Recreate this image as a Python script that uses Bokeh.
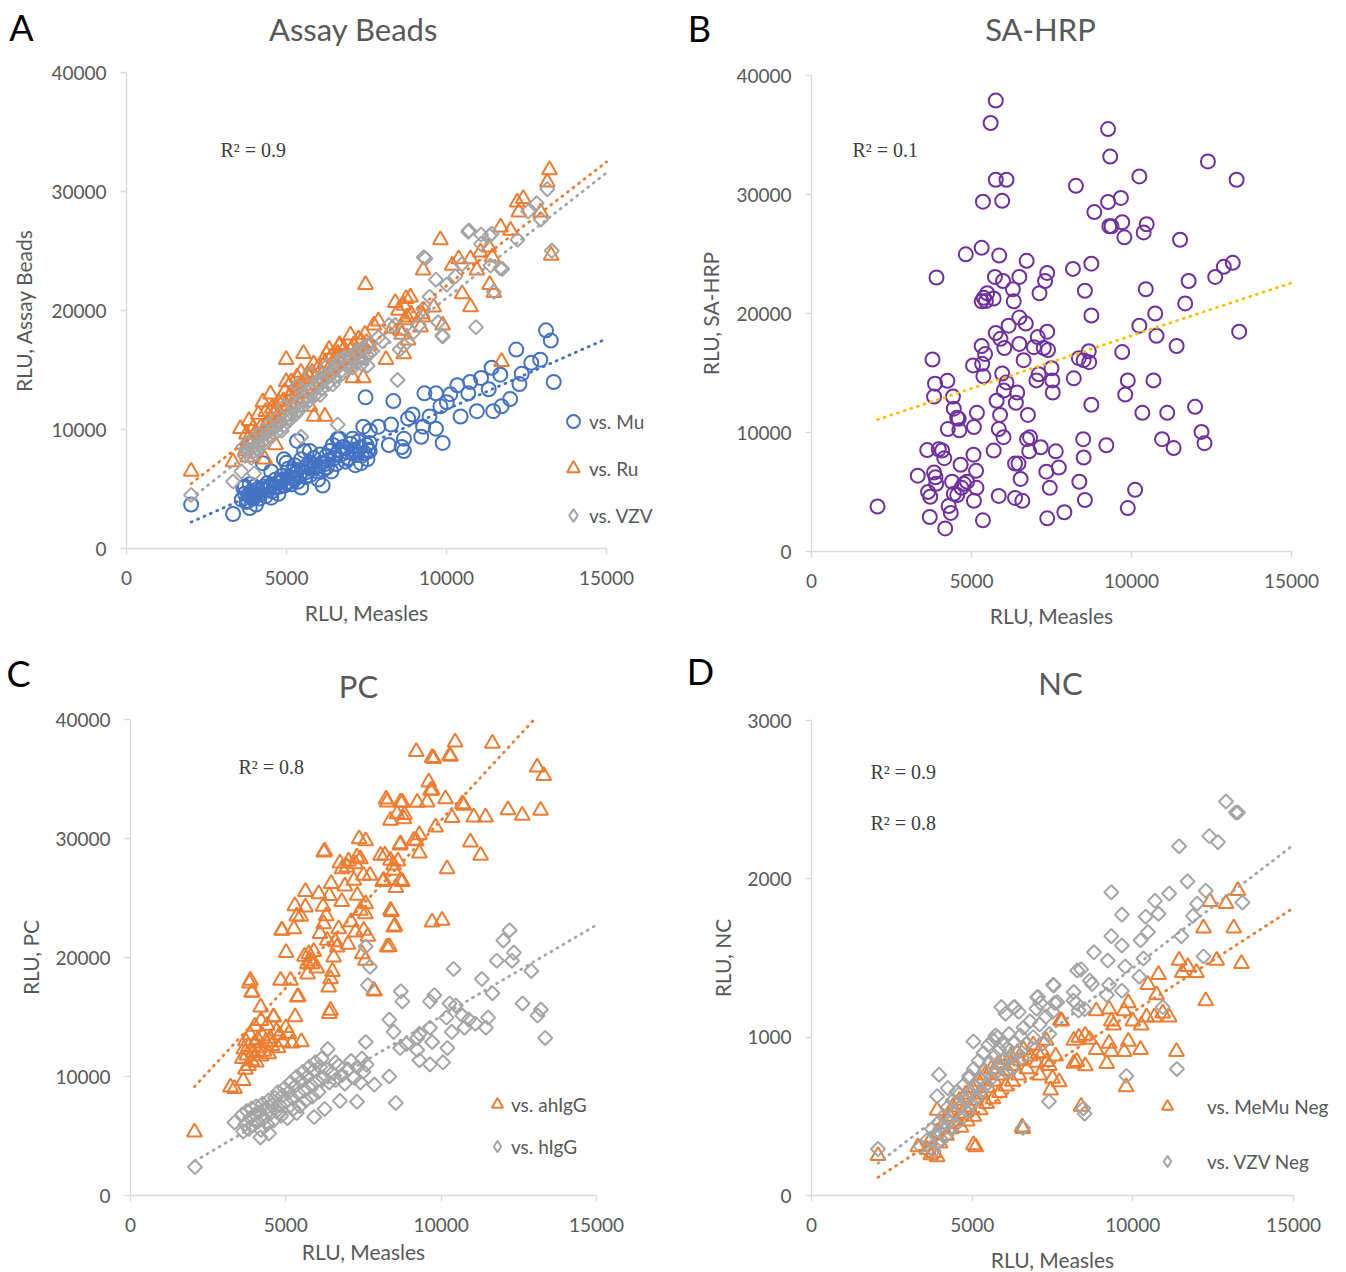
import numpy as np
from bokeh.plotting import figure
from bokeh.models import Range1d, FixedTicker, Label, Legend, LegendItem
from bokeh.layouts import column, row
from bokeh.embed import file_html
from bokeh.resources import INLINE

# ---------------- data (RLU values) ----------------
X_TICKS = [0, 5000, 10000, 15000]

# Panel A  - Assay Beads
A_MU = [(2020,3690),(3330,2900),(3600,4100),(3650,5100),(3700,4600),(3750,3900),(3800,4500),(3850,3400),
        (3850,5400),(3900,4800),(3950,4200),(4000,4300),(4000,5200),(4050,3700),(4100,5000),(4120,4800),
        (4200,4600),(4260,7170),(4300,5200),(4350,4400),(4400,4900),(4450,5100),(4500,5300),(4520,4270),
        (4520,6480),(4600,5100),(4660,5800),(4700,5500),(4750,4600),(4800,5600),(4850,6100),(4900,5800),
        (4920,7510),(4920,5290),(5000,5500),(5000,7200),(5050,6700),(5100,6000),(5150,5400),(5190,6480),
        (5200,5900),(5250,7000),(5300,6300),(5330,9040),(5350,5600),(5400,6100),(5460,7510),(5460,5120),
        (5500,6500),(5550,8200),(5600,6400),(5650,7000),(5700,6800),(5730,8190),(5730,6140),(5800,6700),
        (5850,7600),(5900,7000),(5990,5800),(6000,6900),(6050,7900),(6100,7200),(6130,5290),(6200,7100),
        (6260,6830),(6300,7400),(6350,8200),(6400,6480),(6450,8700),(6500,7600),(6530,7850),(6600,9200),
        (6660,9220),(6700,7900),(6750,8500),(6800,8530),(6850,7300),(6900,8100),(6930,7510),(7000,8800),
        (7070,9220),(7100,8300),(7150,7000),(7200,7850),(7250,9000),(7300,8500),(7330,7170),(7400,10240),
        (7450,8000),(7470,12700),(7500,8700),(7530,7510),(7600,9900),(7600,8870),(7600,8190),(7870,10240),
        (8200,8700),(8270,10410),(8340,12390),(8600,8530),(8670,9220),(8670,8190),(8800,10920),(8940,11260),
        (9210,9390),(9270,10240),(9310,13040),(9470,11090),(9670,10070),(9670,13040),(9810,11950),(9880,8870),
        (10010,12290),(10120,12970),(10340,13720),(10440,11090),(10680,13040),(10740,13990),(10950,11540),
        (11080,14330),(11320,13380),(11410,15190),(11460,11540),(11680,14610),(11720,11950),(11990,12560),
        (12180,16720),(12280,13820),(12350,14680),(12650,15600),(12930,15870),(13110,18330),(13260,17470),
        (13350,13990),
        (3700,5200),(3800,4000),(3900,4400),(4050,4500),(4150,4200),(4250,5000),(4400,5500),(4550,4800),
        (4650,5200),(4800,5200),(4950,5300),(5100,5600),(5250,5800),(5350,6600),(5600,6000),(5750,7200),
        (5950,6500),(6150,6600),(6250,7800),(6550,7100),(6650,8300),(6950,7600),(7050,8000),(7350,7800),
        (7550,8300)]
A_RU = [(2020,6480),(3330,7270),(3560,10070),(3700,8200),(3790,7680),(3800,9200),(3830,10750),(3900,8800),
        (4000,9600),(4100,9000),(4120,11260),(4200,10200),(4260,12290),(4300,9800),(4320,7510),(4400,10600),
        (4500,12970),(4500,10300),(4600,11200),(4660,10580),(4660,8700),(4700,11800),(4800,11000),(4900,12400),
        (4990,15870),(4990,13990),(5000,12000),(5100,12800),(5200,13300),(5300,12600),(5330,14400),(5400,13600),
        (5500,13100),(5530,16380),(5600,14200),(5700,13700),(5730,11950),(5800,14800),(5860,11090),(5900,14300),
        (6000,15200),(6100,14600),(6200,11090),(6200,15600),(6300,15000),(6330,16720),(6400,16100),(6500,15500),
        (6600,16400),(6660,17130),(6700,16000),(6800,16800),(6900,15800),(7000,17920),(7000,16600),(7070,14330),
        (7100,17100),(7200,16500),(7300,15900),(7330,17410),(7400,14330),(7400,16800),(7470,22180),(7500,17300),
        (7600,17060),(7730,18770),(7870,19110),(8110,15870),(8300,18500),(8400,20650),(8500,20000),(8560,18320),
        (8600,18000),(8665,20420),(8665,16360),(8700,19200),(8740,20990),(8770,19440),(8800,17500),(8875,21120),
        (8900,19700),(9190,18600),(9240,19720),(9270,23380),(9270,19450),(9600,20280),(9810,25940),(9880,18770),
        (10180,23780),(10380,24340),(10490,21400),(10750,24340),(10750,20310),(10950,23380),(11060,24900),
        (11320,25320),(11350,22180),(11430,24480),(11480,21500),(11690,27000),(11720,15700),(12000,26720),
        (12210,29100),(12260,28260),(12400,29390),(12940,28260),(13150,30780),(13220,31810),(13270,24620),
        (3750,9600),(3950,10100),(4150,9500),(4350,11500),(4550,11800),(4750,12300),(4950,13200),(5150,14000),
        (5350,13000),(5450,14800),(5650,14600),(5850,15500),(6050,14000),(6250,16300),(6450,15200),(6650,17000),
        (6850,16100),(7050,15500),(7250,17600),(7450,18000)]
A_VZV = [(2020,4500),(3330,5630),(3590,6480),(3650,8530),(3700,7800),(3790,8190),(3800,8900),(3850,8870),
         (3900,7600),(3990,6310),(3990,8530),(4000,9000),(4100,8300),(4120,9220),(4200,9500),(4260,9900),
         (4300,8800),(4400,9700),(4460,10410),(4500,9300),(4600,10100),(4660,10920),(4700,9800),(4800,10600),
         (4900,10300),(4920,11950),(5000,11200),(5100,10800),(5190,12290),(5200,11700),(5300,11300),
         (5330,13650),(5400,12300),(5460,13310),(5460,9390),(5500,11900),(5600,12800),(5700,12400),
         (5730,14680),(5800,13400),(5900,12900),(6000,13900),(6060,14330),(6100,13400),(6200,14400),
         (6260,15360),(6300,13900),(6400,15000),(6500,14400),(6530,15020),(6600,15400),(6600,10410),
         (6700,14900),(6800,15900),(6800,16040),(6900,15300),(7000,16200),(7070,15190),(7100,15700),
         (7200,16600),(7300,16100),(7330,16040),(7400,16900),(7500,16300),(7530,15360),(7600,17200),
         (7600,16380),(7870,17750),(8000,17410),(8200,18770),(8400,18770),(8470,14160),(8540,16720),
         (8670,17060),(8940,18090),(9140,18770),(9270,20140),(9290,24480),(9340,24370),(9470,21160),
         (9670,22590),(9740,19010),(9870,17900),(9880,17810),(10010,22180),(10280,22870),(10480,23890),
         (10680,26620),(10700,26720),(10920,18600),(11080,26380),(11080,25600),(11350,26280),(11375,23780),
         (11410,26450),(11480,21570),(11680,23550),(11740,23500),(12220,25940),(12550,28330),(12820,29010),
         (12950,27650),(13150,30200),(13290,25020),
         (3750,8400),(3950,8100),(4050,9400),(4150,8700),(4350,9200),(4550,10200),(4750,10400),(4850,9900),
         (5050,10900),(5150,11400),(5250,12000),(5350,11600),(5550,12400),(5650,13200),(5750,12900),
         (5950,13500),(6050,12900),(6150,14000),(6350,14500),(6450,13800),(6650,15800),(6750,14700),
         (6950,15700),(7150,16300),(7350,15500),(7450,16000),(7550,17000)]

# Panel B  - SA-HRP
B_HRP = [(2063,3780),(3906,23025),(3781,16134),(3860,14100),(3830,13015),(3616,8520),(3977,8590),(4150,7840),
         (3321,6370),(3830,6640),(3897,5690),(3643,5010),(3710,4600),(3696,2900),(4178,1940),(4245,14340),
         (4420,13015),(4446,12000),(4553,11240),(4259,10290),(4620,10190),(4393,5860),(4660,7290),(4286,3820),
         (4353,3240),(4553,4740),(4687,5350),(4861,5860),(4821,24975),(5049,15640),(5076,10460),(5170,11650),
         (5062,8140),(5143,6780),(5076,4260),(5156,5350),(5317,25520),(5357,29400),(5317,17270),(5357,2620),
         (5317,21020),(5424,16590),(5370,14720),(5490,21700),(5598,36010),(5759,37890),(5759,31240),
         (6093,31240),(5959,29470),(5692,8480),(5759,18360),(5732,23070),(5692,21260),(5786,12670),
         (5852,10290),(5893,11480),(5852,4670),(5866,24870),(5959,14960),(5986,22730),(6000,9610),(6027,17100),
         (6093,14210),(6160,18980),(6294,22040),(6320,21020),(6361,7390),(6361,4500),(6387,12500),(6428,13360),
         (6468,7390),(6495,23070),(6495,19660),(6495,17440),(6535,6100),(6589,4260),(6629,16080),(6696,19150),
         (6723,24430),(6763,11480),(6736,9440),(6830,9610),(6803,8420),(7071,18020),(7125,21700),(7165,8760),
         (7031,14380),(7098,14890),(7259,17100),(7299,22730),(7366,23410),(7366,18470),(7339,6710),(7366,2790),
         (7446,5350),(7393,16930),(7500,15400),(7527,14380),(7540,13360),(7634,8420),(7728,7050),(7902,3300),
         (8170,23750),(8263,30730),(8196,14550),(8370,5860),(8504,16080),(8544,21910),(8490,9440),(8504,7900),
         (8544,4330),(8678,15910),(8745,19830),(8745,24190),(8745,12330),(8839,28520),(9214,8930),(9268,29370),
         (9268,35500),(9335,33190),(9308,27330),(9375,27330),(9669,29710),(9710,27670),(9710,16760),(9777,26400),
         (9804,13190),(9884,14380),(9884,3650),(10112,5180),(10246,31520),(10246,18980),(10380,26810),
         (10340,11650),(10474,27500),(10446,22040),(10741,20000),(10781,18130),(10687,14380),(10955,9440),
         (11116,11650),(11317,8690),(11410,17270),(11518,26200),(11678,20850),(11785,22730),(11986,12160),
         (12187,10050),(12281,9100),(12388,32780),(12616,23070),(12884,23920),(13165,24260),(13285,31240),
         (13365,18470),(4600,11150),(3875,6240),(4083,8490),(4448,4850),(4760,5690),(5385,21320),(5450,21050),
         (6948,17170),(5906,17870),(5333,15770),(6010,13530),(8354,16245),(8666,16830)]

# Panel C  - PC
C_AHIGG = [(2060,5320),(3350,8980),(3630,9660),(3830,17850),(3900,17060),(3860,18070),(3920,17080),(3219,9100),
           (3600,11500),(3650,12300),(3700,10600),(3700,13000),(3750,11800),(3800,12500),(3800,10900),
           (3850,13500),(3900,11300),(3950,12000),(4000,12800),(4000,14200),(4050,11200),(4100,13100),
           (4150,12400),(4190,15820),(4200,11700),(4200,14700),(4250,13400),(4300,12100),(4350,12900),
           (4400,14300),(4450,11900),(4500,13200),(4550,12600),(4600,15000),(4610,14980),(4700,13800),
           (4750,12400),(4800,13500),(4830,18070),(4870,22290),(4880,22270),(4900,12900),(5000,14100),
           (5010,20410),(5100,13600),(5150,18070),(5200,12800),(5260,22410),(5290,24330),(5300,15000),
           (5350,23480),(5370,16660),(5400,16700),(5480,23460),(5500,12900),(5600,20100),(5630,25530),
           (5630,24230),(5690,19470),(5700,18600),(5740,20310),(5800,19700),(5850,19470),(5900,20500),
           (6000,19100),(6060,25350),(6100,22000),(6200,24300),(6220,22830),(6220,28850),(6250,28940),
           (6300,23500),(6330,21430),(6380,17500),(6400,15290),(6400,25200),(6440,18210),(6440,15550),
           (6460,26210),(6500,18800),(6540,20030),(6600,21300),(6650,20870),(6700,22400),(6740,27920),
           (6800,24700),(6810,27450),(6900,26000),(6970,27590),(7000,21100),(7020,28090),(7100,23000),
           (7190,26470),(7240,27870),(7240,22120),(7290,28430),(7300,25210),(7360,29970),(7400,23950),
           (7400,28290),(7460,20310),(7500,26890),(7510,22270),(7560,23670),(7560,19750),(7570,29800),
           (7570,24510),(7640,21770),(7710,26890),(7830,17230),(7850,17170),(8050,28570),(8120,26380),
           (8150,26470),(8190,28600),(8230,33310),(8260,33050),(8260,20870),(8330,20920),(8370,31510),
           (8370,28150),(8370,23950),(8400,23820),(8470,27750),(8480,27310),(8480,22550),(8510,22630),
           (8540,25870),(8580,32070),(8610,28090),(8680,29450),(8690,33050),(8690,26470),(8690,29550),
           (8750,33040),(8750,26380),(8800,31650),(8820,32010),(9120,29830),(9200,37300),(9230,33040),
           (9200,29800),(9300,30310),(9300,28770),(9550,33050),(9600,34730),(9660,34030),(9710,34060),
           (9710,36790),(9710,22970),(9760,36700),(9820,30950),(10030,23110),(10140,33330),(10190,27450),
           (10270,36960),(10300,36890),(10350,31740),(10450,38090),(10680,32910),(10730,32770),(10940,29690),
           (11050,31790),(11270,28570),(11430,31790),(11650,37990),(12150,32410),(12610,31930),(13090,35990),
           (13200,32350),(13300,35290)]
C_HIGG = [(2075,2390),(3350,6140),(3600,6800),(3630,5390),(3700,6000),(3750,7100),(3800,5600),(3850,6500),
          (3900,7300),(3950,5900),(4000,6800),(4050,7500),(4100,6200),(4150,7000),(4180,4880),(4200,5500),
          (4250,7700),(4300,6500),(4350,7300),(4400,6000),(4450,8000),(4460,5220),(4500,6900),(4550,7600),
          (4600,6300),(4650,8200),(4700,7100),(4750,8700),(4800,6930),(4800,7600),(4850,6700),(4900,8400),
          (4950,9000),(5000,7900),(5050,6500),(5100,8700),(5150,9500),(5200,8200),(5250,7300),(5300,9200),
          (5350,6930),(5350,10000),(5400,8600),(5450,7500),(5500,9600),(5550,10400),(5600,8900),(5650,8000),
          (5700,10000),(5750,10800),(5800,9300),(5850,8300),(5900,10500),(5910,6590),(5950,11200),(6000,9600),
          (6050,8700),(6100,10800),(6150,11500),(6200,9900),(6250,7270),(6300,10600),(6350,12300),(6400,9500),
          (6500,10300),(6600,11190),(6600,9700),(6700,10900),(6740,7950),(6800,10100),(6900,9400),(7000,10600),
          (7100,11300),(7200,9900),(7290,7880),(7300,10800),(7400,9500),(7450,11500),(7500,10400),(7570,12900),
          (7570,20920),(7600,11000),(7640,17680),(7710,19220),(7850,9320),(8330,10000),(8540,7780),(8330,14780),
          (8470,13750),(8700,17170),(8750,16310),(8680,12390),(8880,12730),(9300,13580),(9230,13240),
          (9230,12220),(9300,11370),(9640,11020),(9710,12900),(9640,16310),(9780,16830),(9640,14100),
          (10060,11190),(10200,12390),(10170,14950),(10340,13750),(10270,16140),(10400,19040),(10470,15970),
          (10680,15120),(10750,14100),(10890,14780),(11100,14440),(11310,18190),(11440,14100),(11510,14950),
          (11650,17000),(11790,19730),(12000,21430),(12200,22290),(12280,19730),(12340,20410),(12620,16140),
          (12900,18870),(13100,15120),(13210,15630),(13350,13240)]

# Panel D  - NC
D_MEMU = [(2070,251),(3310,307),(3600,290),(3700,350),(3710,256),(3800,270),(3900,400),(3910,243),(3910,538),
          (4000,330),(4100,450),(4200,380),(4300,500),(4350,420),(4400,560),(4500,470),(4600,600),(4650,430),
          (4700,520),(4800,640),(4850,470),(4900,560),(5000,680),(5040,320),(5050,500),(5110,307),(5100,600),
          (5200,720),(5250,540),(5300,640),(5400,760),(5450,580),(5500,680),(5600,800),(5650,610),(5700,720),
          (5800,830),(5850,650),(5900,760),(6000,860),(6050,690),(6100,790),(6200,880),(6250,720),(6300,820),
          (6400,900),(6450,760),(6500,850),(6556,431),(6580,422),(6600,920),(6700,800),(6800,880),(6900,950),
          (7000,840),(7050,896),(7100,760),(7200,900),(7300,980),(7320,845),(7400,820),(7440,666),(7500,740),
          (7600,880),(7710,717),(7750,1105),(7790,1101),(8165,979),(8165,834),(8260,845),(8320,998),(8390,563),
          (8520,1011),(8520,819),(8660,985),(8860,1165),(8860,921),(9190,832),(9260,1177),(9260,960),(9330,1101),
          (9330,909),(9400,1075),(9730,1165),(9730,909),(9790,686),(9860,1216),(9860,973),(10000,1101),
          (10240,921),(10260,1075),(10430,1126),(10470,1331),(10670,1126),(10740,1267),(10800,1395),
          (10930,1152),(11130,1126),(11360,909),(11440,1484),(11540,1408),(11710,1446),(11980,1408),
          (12200,1689),(12270,1229),(12400,1856),(12610,1484),(12900,1843),(13140,1689),(13270,1925),
          (13380,1464)]
D_VZV = [(2070,294),(3400,310),(3600,350),(3700,300),(3750,420),(3800,280),(3850,380),(3900,330),(3910,627),
         (3950,460),(3970,763),(4000,400),(4050,350),(4100,500),(4150,430),(4200,380),(4240,678),(4250,560),
         (4300,470),(4350,420),(4400,600),(4450,520),(4500,450),(4510,653),(4600,640),(4650,560),(4700,490),
         (4750,700),(4800,600),(4850,530),(4900,740),(4910,755),(4950,650),(5000,580),(5040,973),(5050,800),
         (5100,690),(5150,620),(5200,850),(5250,740),(5300,660),(5350,900),(5400,790),(5450,700),(5500,950),
         (5550,840),(5600,740),(5650,980),(5700,880),(5726,1010),(5750,780),(5800,1000),(5850,920),
         (5900,820),(5910,1190),(5950,960),(6000,860),(6037,1148),(6050,780),(6100,930),(6150,1020),
         (6200,880),(6250,800),(6296,1189),(6300,970),(6320,1190),(6400,900),(6450,1160),(6500,1010),
         (6550,870),(6580,427),(6600,1060),(6700,960),(6800,1100),(6900,1000),(7000,1180),(7024,1252),
         (7050,1254),(7100,1080),(7120,1216),(7200,960),(7300,1130),(7390,594),(7400,1020),(7500,1160),
         (7520,1331),(7541,1326),(7570,1216),(7647,1221),(8150,1231),(8160,1285),(8240,1216),(8270,1421),
         (8310,1168),(8390,1428),(8460,550),(8500,1177),(8500,517),(8660,1357),(8730,1336),(8790,1536),
         (9190,1267),(9220,1484),(9260,1331),(9330,1915),(9330,1638),(9660,1774),(9660,1579),(9660,1293),
         (9760,1446),(9800,755),(10200,1382),(10240,1612),(10330,1497),(10400,1761),(10470,1664),
         (10690,1861),(10800,1779),(10930,1190),(11130,1907),(11370,799),(11440,2206),(11510,1638),
         (11700,1984),(11870,1766),(12000,1843),(12200,1510),(12270,1925),(12380,2270),(12650,2232),
         (12900,2488),(13210,2419),(13270,2419),(13410,1851)]

# Linear trend lines as shown in the figure: (slope, intercept)
FIT_A_MU, FIT_A_RU, FIT_A_VZV = (1.187, -178), (2.082, 1254), (2.108, -45)
FIT_B_HRP = (0.888, 9256)
FIT_C_AHIGG, FIT_C_HIGG = (2.821, 3340), (1.535, -289)
FIT_D_MEMU, FIT_D_VZV = (0.1316, -158), (0.1555, -118)

# ---------------- styling ----------------
BLUE, ORANGE, GRAY, PURPLE, GOLD = "#4472C4", "#ED7D31", "#A5A5A5", "#7030A0", "#FFC000"
TXT = "#595959"
FONT = "Lato"
W, H = 673, 636
DIAM = np.pi / 4
S_CIRC, S_TRI, S_DIAM, LW = 14, 15, 10, 2.0


def xy(pts):
    return [p[0] for p in pts], [p[1] for p in pts]


def to_data(frame, ymax, fx, fy):
    l, r, t, b = frame
    return (fx - l) / (r - l) * 15000, (b - fy) / (b - t) * ymax


def make_panel(frame, ymax, ystep, ylabel, xstand, ystand):
    l, r, t, b = frame
    sx = 15000 / (r - l)
    sy = ymax / (b - t)
    p = figure(width=W, height=H,
               x_range=Range1d(-l * sx, (W - l) * sx),
               y_range=Range1d(-(H - b) * sy, b * sy),
               min_border_left=0, min_border_right=0, min_border_top=0, min_border_bottom=0,
               output_backend="svg", toolbar_location=None,
               x_axis_label="RLU, Measles", y_axis_label=ylabel)
    p.title.visible = False
    p.outline_line_color = None
    p.xgrid.visible = False
    p.ygrid.visible = False
    p.background_fill_color = "white"
    p.border_fill_color = "white"
    xa, ya = p.xaxis[0], p.yaxis[0]
    xa.fixed_location = 0
    ya.fixed_location = 0
    xa.bounds = (0, 15000)
    ya.bounds = (0, ymax)
    xa.ticker = FixedTicker(ticks=X_TICKS)
    ya.ticker = FixedTicker(ticks=list(range(0, ymax + 1, ystep)))
    for ax in (xa, ya):
        ax.axis_line_color = "#D9D9D9"
        ax.axis_line_width = 1.3
        ax.major_tick_line_color = "#D9D9D9"
        ax.major_tick_line_width = 1.3
        ax.minor_tick_line_color = None
        ax.major_tick_out = 6
        ax.major_tick_in = 0
        ax.major_label_text_font = FONT
        ax.major_label_text_font_size = "19px"
        ax.major_label_text_color = TXT
        ax.axis_label_text_font = FONT
        ax.axis_label_text_font_size = "21px"
        ax.axis_label_text_color = TXT
        ax.axis_label_text_font_style = "normal"
    xa.major_label_standoff = 16
    ya.major_label_standoff = 14
    xa.axis_label_standoff = xstand
    ya.axis_label_standoff = ystand
    return p


def add_series(p, pts, marker, color, size, angle=0.0):
    xs, ys = xy(pts)
    return p.scatter(xs, ys, marker=marker, size=size, angle=angle, fill_color=None,
                     line_color=color, line_width=LW)


def add_trend(p, pts, fit, color, ymax):
    k, c = fit
    xs, _ = xy(pts)
    x0 = min(xs)
    x1 = min(15000, (ymax - c) / k)
    p.line([x0, x1], [k * x0 + c, k * x1 + c], line_color=color, line_width=2.8,
           line_dash="1 6", line_cap="round")


def add_text(p, frame, ymax, fx, fy, text, size, color, font=FONT, align="left"):
    x, y = to_data(frame, ymax, fx, fy)
    p.add_layout(Label(x=x, y=y, text=text, text_font=font, text_font_size=size, text_color=color,
                       text_align=align, text_baseline="middle"))


def add_legend(p, items, loc, glyph, spacing, standoff):
    lg = Legend(items=items, location=loc, glyph_width=glyph, glyph_height=glyph, label_height=glyph,
                spacing=spacing, label_standoff=standoff, padding=0, margin=0,
                background_fill_alpha=0, border_line_alpha=0,
                label_text_font=FONT, label_text_font_size="19px", label_text_color=TXT)
    p.add_layout(lg)


def diamond_key(p):
    # legend key for the diamond series (legend keys are drawn unrotated); its one point is NaN, so not drawn
    return p.scatter(np.array([np.nan]), np.array([np.nan]), marker="diamond", size=12, fill_color=None,
                     line_color=GRAY, line_width=LW)


R2_FONT = "Liberation Serif"
R2_COL = "#404040"

# ---- Panel A ----
FA = (126, 606, 72, 548)
pA = make_panel(FA, 40000, 10000, "RLU, Assay Beads", 12, 12)
rA1 = add_series(pA, A_MU, "circle", BLUE, S_CIRC)
rA2 = add_series(pA, A_RU, "triangle", ORANGE, S_TRI)
rA3 = add_series(pA, A_VZV, "square", GRAY, S_DIAM, DIAM)
kA3 = diamond_key(pA)
add_trend(pA, A_MU, FIT_A_MU, BLUE, 40000)
add_trend(pA, A_RU, FIT_A_RU, ORANGE, 40000)
add_trend(pA, A_VZV, FIT_A_VZV, GRAY, 40000)
add_legend(pA, [LegendItem(label="vs. Mu", renderers=[rA1]), LegendItem(label="vs. Ru", renderers=[rA2]),
                LegendItem(label="vs. VZV", renderers=[kA3])], (557, 105), 32, 15, 0)
add_text(pA, FA, 40000, 220, 149, "R² = 0.9", "20px", R2_COL, R2_FONT)
add_text(pA, FA, 40000, 353, 28, "Assay Beads", "31px", TXT, align="center")
add_text(pA, FA, 40000, 21, 26, "A", "36px", "#000000", align="center")

# ---- Panel B ----
FB = (138, 618, 75, 551)
pB = make_panel(FB, 40000, 10000, "RLU, SA-HRP", 12, 10)
add_series(pB, B_HRP, "circle", PURPLE, S_CIRC)
add_trend(pB, B_HRP, FIT_B_HRP, GOLD, 40000)
add_text(pB, FB, 40000, 179, 149, "R² = 0.1", "20px", R2_COL, R2_FONT)
add_text(pB, FB, 40000, 367, 28, "SA-HRP", "31px", TXT, align="center")
add_text(pB, FB, 40000, 26, 27, "B", "36px", "#000000", align="center")

# ---- Panel C ----
FC = (130, 596, 83, 559)
pC = make_panel(FC, 40000, 10000, "RLU, PC", 4, 9)
rC1 = add_series(pC, C_AHIGG, "triangle", ORANGE, S_TRI)
rC2 = add_series(pC, C_HIGG, "square", GRAY, S_DIAM, DIAM)
kC2 = diamond_key(pC)
add_trend(pC, C_AHIGG, FIT_C_AHIGG, ORANGE, 40000)
add_trend(pC, C_HIGG, FIT_C_HIGG, GRAY, 40000)
add_legend(pC, [LegendItem(label="vs. ahIgG", renderers=[rC1]), LegendItem(label="vs. hIgG", renderers=[kC2])],
           (483, 112), 28, 14, 0)
add_text(pC, FC, 40000, 238, 130, "R² = 0.8", "20px", R2_COL, R2_FONT)
add_text(pC, FC, 40000, 358, 49, "PC", "31px", TXT, align="center")
add_text(pC, FC, 40000, 18, 36, "C", "36px", "#000000", align="center")

# ---- Panel D ----
FD = (138, 620, 84, 559)
pD = make_panel(FD, 3000, 1000, "RLU, NC", 12, 9)
rD1 = add_series(pD, D_MEMU, "triangle", ORANGE, S_TRI)
rD2 = add_series(pD, D_VZV, "square", GRAY, S_DIAM, DIAM)
kD2 = diamond_key(pD)
add_trend(pD, D_MEMU, FIT_D_MEMU, ORANGE, 3000)
add_trend(pD, D_VZV, FIT_D_VZV, GRAY, 3000)
add_legend(pD, [LegendItem(label="vs. MeMu Neg", renderers=[rD1]), LegendItem(label="vs. VZV Neg", renderers=[kD2])],
           (480, 97), 28, 27, 26)
add_text(pD, FD, 3000, 197, 135, "R² = 0.9", "20px", R2_COL, R2_FONT)
add_text(pD, FD, 3000, 197, 186, "R² = 0.8", "20px", R2_COL, R2_FONT)
add_text(pD, FD, 3000, 387, 46, "NC", "31px", TXT, align="center")
add_text(pD, FD, 3000, 27, 34, "D", "36px", "#000000", align="center")

layout = column(row(pA, pB), row(pC, pD))
open("out.html", "w").write(file_html(layout, INLINE))
